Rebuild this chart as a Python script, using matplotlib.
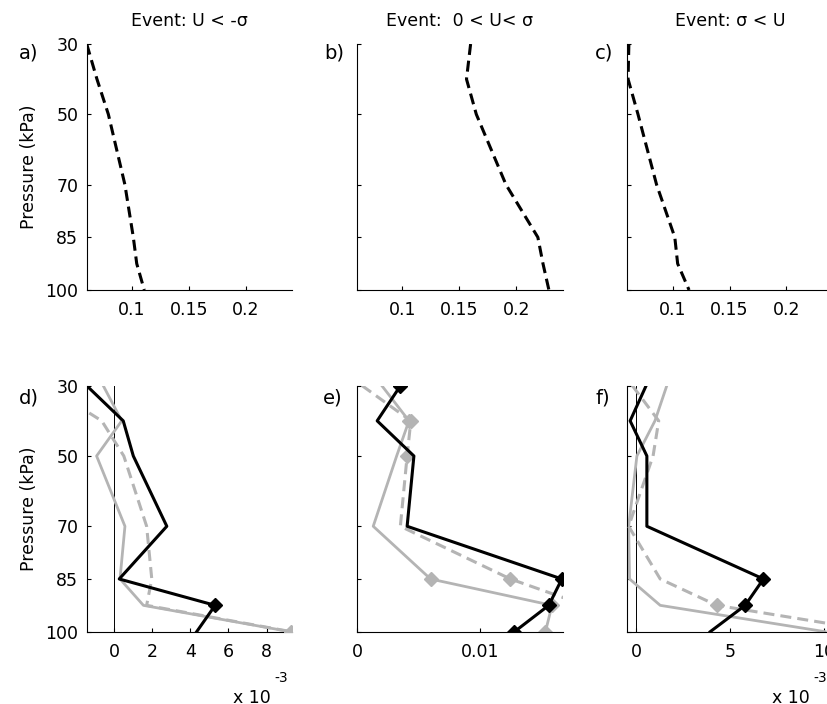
import matplotlib
matplotlib.use("Agg")
import matplotlib.pyplot as plt

plt.rcParams['font.family'] = ['DejaVu Sans']
plt.rcParams['xtick.direction'] = 'in'
plt.rcParams['ytick.direction'] = 'in'

# pressure levels (kPa)
levels = [30, 40, 50, 70, 85, 92.5, 100]
ytick_vals = [30, 50, 70, 85, 100]

# top row: dashed profiles
top_a = [0.0605, 0.0695, 0.0795, 0.094, 0.1014, 0.1044, 0.111]
top_b = [0.160, 0.1564, 0.165, 0.191, 0.219, 0.2235, 0.2287]
top_c = [0.0617, 0.061, 0.0697, 0.086, 0.102, 0.1045, 0.1145]

# bottom row, values in units of 1e-3
d_black = [-1.45, 0.47, 1.0, 2.76, 0.26, 5.3, 4.33]
d_gray = [-0.58, 0.39, -0.93, 0.56, 0.3, 1.53, 9.25]
d_gdash = [-3.6, -0.66, 0.5, 1.7, 1.97, 1.7, 9.3]

e_black = [3.51, 1.62, 4.6, 4.05, 16.6, 15.54, 12.76]
e_gray = [2.0, 4.2, 3.2, 1.3, 5.95, 15.8, 15.27]
e_gdash = [0.4, 4.35, 4.05, 3.5, 12.43, 18.5, 17.5]

f_black = [0.53, -0.32, 0.57, 0.57, 6.77, 5.8, 3.94]
f_gray = [1.63, 1.0, 0.04, -0.4, -0.35, 1.28, 10.05]
f_gdash = [-0.2, 1.2, 0.9, -0.4, 1.28, 4.29, 12.9]

# levels (index) marked with a diamond
d_sig = {'black': [5], 'gray': [], 'gdash': [6]}
e_sig = {'black': [0, 4, 5, 6], 'gray': [1, 4, 5, 6], 'gdash': [1, 2, 4]}
f_sig = {'black': [4, 5], 'gray': [], 'gdash': [5]}

titles = ['Event: U < -σ', 'Event:  0 < U< σ', 'Event: σ < U']
top_labels = ['a)', 'b)', 'c)']
bot_labels = ['d)', 'e)', 'f)']

W, H = 828, 704
GRAY = '#b4b4b4'
FS = 12.5


def px_axes(fig, x, y, w, h):
    return fig.add_axes([x / W, 1 - (y + h) / H, w / W, h / H])


def style(ax, show_ylabels):
    for s in ['top', 'right']:
        ax.spines[s].set_visible(False)
    for s in ['left', 'bottom']:
        ax.spines[s].set_linewidth(0.8)
    ax.set_ylim(100, 30)
    ax.set_yticks(ytick_vals)
    if show_ylabels:
        ax.set_yticklabels([str(v) for v in ytick_vals])
        ax.set_ylabel('Pressure (kPa)', fontsize=FS, labelpad=5)
    else:
        ax.set_yticklabels([])
    ax.tick_params(axis='both', labelsize=FS, length=3, width=0.8)
    ax.tick_params(axis='x', pad=8)
    ax.tick_params(axis='y', pad=6)


fig = plt.figure(figsize=(W / 100, H / 100), dpi=100)

col_x = [86.7, 357.2, 627.5]
aw, ah = 205.5, 246
row_y = [44, 385.7]

# top row
for i, vals in enumerate([top_a, top_b, top_c]):
    ax = px_axes(fig, col_x[i], row_y[0], aw, ah)
    ax.plot(vals, levels, color='k', lw=2.2, ls=(0, (3.6, 1.9)))
    ax.set_xlim(0.0605, 0.2408)
    ax.set_xticks([0.1, 0.15, 0.2])
    ax.set_xticklabels(['0.1', '0.15', '0.2'])
    style(ax, i == 0)
    ax.set_title(titles[i], fontsize=FS, pad=13)
    ax.text(-58 / aw if i == 0 else -23 / aw, 1 - 9 / ah, top_labels[i],
            transform=ax.transAxes, fontsize=14, ha='center', va='center')

# bottom row
bottom = [(d_black, d_gray, d_gdash, d_sig, (-1.45, 9.35), [0, 2, 4, 6, 8],
           ['0', '2', '4', '6', '8']),
          (e_black, e_gray, e_gdash, e_sig, (0, 16.67), [0, 10], ['0', '0.01']),
          (f_black, f_gray, f_gdash, f_sig, (-0.46, 10.47), [0, 5, 10],
           ['0', '5', '10'])]

for i, (blk, gry, gds, sig, xl, xt, xtl) in enumerate(bottom):
    ax = px_axes(fig, col_x[i], row_y[1], aw, ah)
    if i != 1:
        ax.axvline(0, color='k', lw=0.7, zorder=1)
    ax.plot(gry, levels, color=GRAY, lw=2.0, zorder=2)
    ax.plot(gds, levels, color=GRAY, lw=2.2, ls=(0, (3.6, 2.0)), zorder=3)
    ax.plot(blk, levels, color='k', lw=2.2, zorder=4)
    for key, vals, col, z in [('gray', gry, GRAY, 2.5), ('gdash', gds, GRAY, 3.5),
                              ('black', blk, 'k', 4.5)]:
        idx = sig[key]
        if idx:
            ax.plot([vals[j] for j in idx], [levels[j] for j in idx], ls='none',
                    marker='D', ms=7, color=col, zorder=z)
    ax.set_xlim(*xl)
    ax.set_xticks(xt)
    ax.set_xticklabels(xtl)
    style(ax, i == 0)
    lx = -58 if i == 0 else -25
    ax.text(lx / aw, 1 - 12 / ah, bot_labels[i], transform=ax.transAxes,
            fontsize=14, ha='center', va='center')

# exponent labels
for x0, xs in [(233, 274), (772, 813)]:
    fig.text(x0 / W, 1 - 698 / H, 'x 10', fontsize=FS, ha='left', va='center')
    fig.text(xs / W, 1 - 678 / H, '-3', fontsize=10, ha='left', va='center')

fig.savefig('out.png', dpi=100)
